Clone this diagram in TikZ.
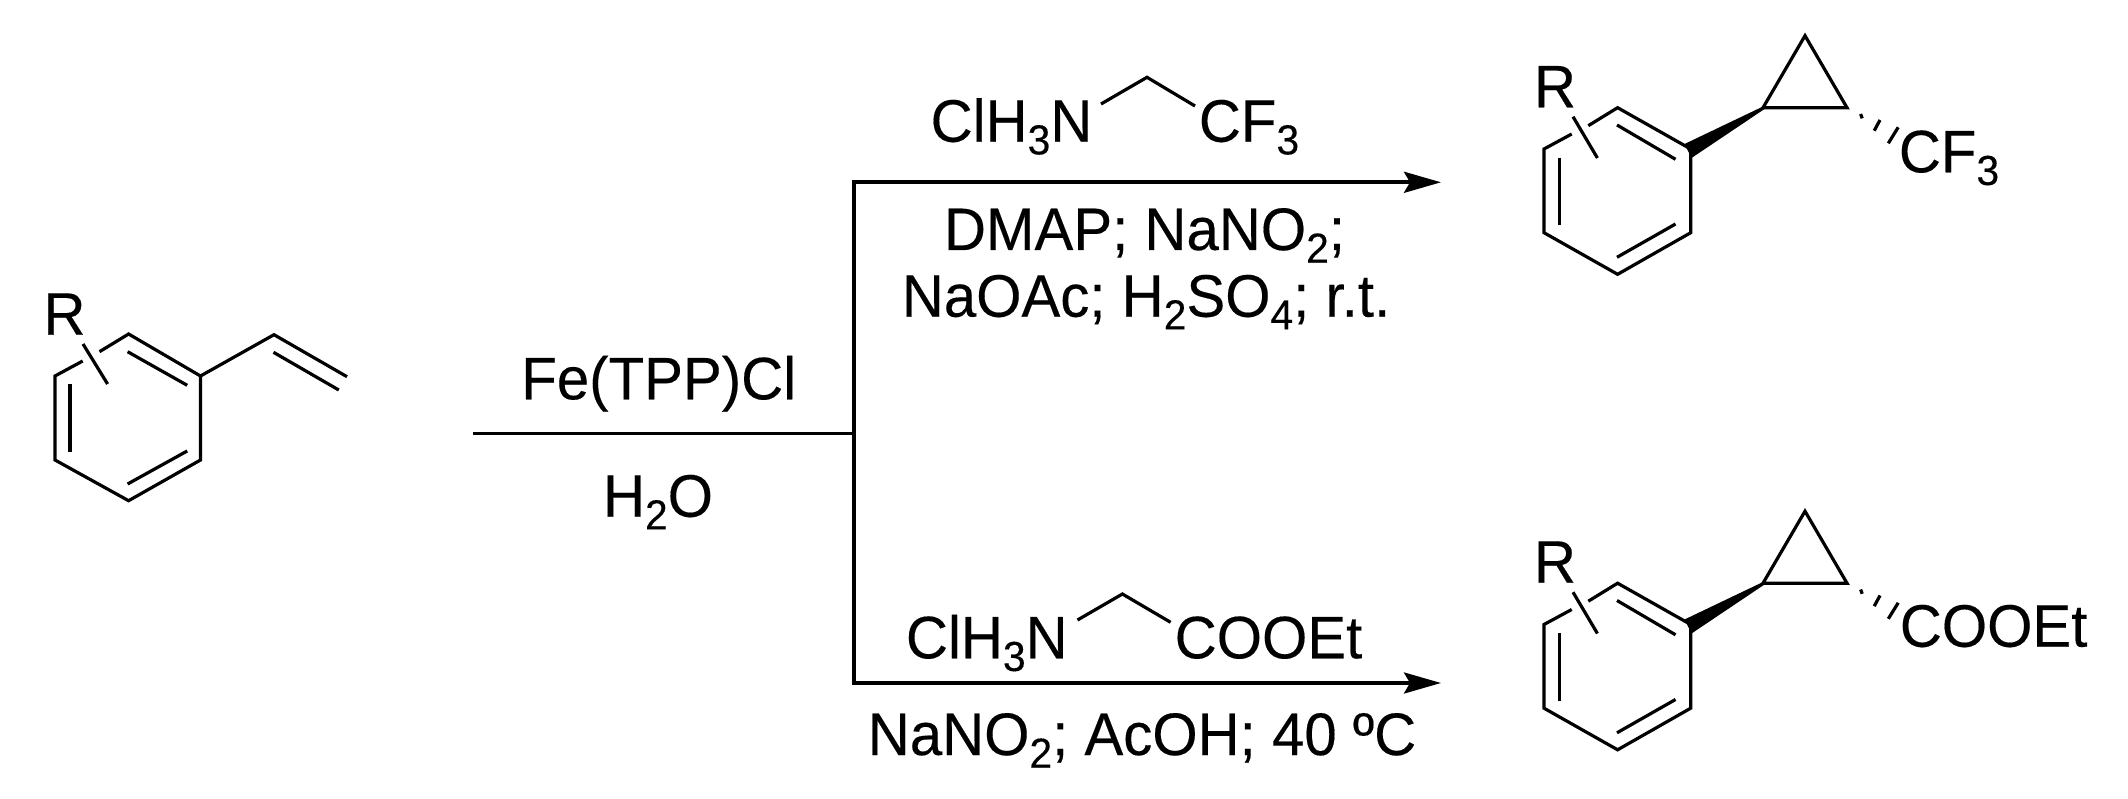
\documentclass[tikz,border=0pt]{standalone}
\usepackage{fontspec}
\setmainfont{Liberation Sans}[FakeStretch=0.97,FakeBold=0.25]
\usetikzlibrary{arrows.meta}
\newcommand{\chsub}[1]{\raisebox{-12.7pt}{\fontsize{42pt}{42pt}\selectfont #1}}
\tikzset{
  bond/.style={line width=3.2pt,line join=miter,line cap=butt,black},
  flow/.style={line width=3.6pt,line join=miter,line cap=rect,black},
  flowtip/.style={flow,-{Stealth[length=37pt,width=21pt,inset=6pt]}},
  chem/.style={inner sep=0pt,outer sep=0pt,anchor=base,font=\fontsize{60pt}{60pt}\selectfont,text=black},
}
\newcommand{\arylcp}{%
  \draw[bond] (1588.3,125.7) -- (1617.6,107.7) -- (1690.7,149) -- (1690.7,232.7) -- (1617.6,274.3) -- (1544,232.7) -- (1544,149) -- (1571.7,134);
  \draw[bond] (1617,125) -- (1675.5,159.3);
  \draw[bond] (1675.5,224) -- (1617,257.3);
  \draw[bond] (1559.3,157.7) -- (1559.3,225);
  \draw[bond] (1573,116.7) -- (1597.4,158);
  % cyclopropane
  \draw[bond] (1763,107.7) -- (1847,107.7) -- (1805,35.7) -- cycle;
  % wedge
  \fill[black] (1763,106.5) -- (1684.5,144) -- (1691.5,158) -- (1764.5,109) -- cycle;
  % hashed bond
  \draw[bond] (1860.6,114) -- (1862.2,118.3);
  \draw[bond] (1880,120) -- (1874.2,130.7);
  \draw[bond] (1898.2,127.3) -- (1888.3,143.3);
}
\begin{document}
\begin{tikzpicture}[x=1pt,y=-1pt]
\path[use as bounding box,fill=white] (0,0) rectangle (2128,799);

% --- styrene ---
\draw[bond] (99.5,351.7) -- (128.6,334) -- (200.5,376) -- (200.5,460) -- (128.6,500.7) -- (55,460) -- (55,376) -- (82.7,361);
\draw[bond] (127.6,351.7) -- (187.2,385.3);
\draw[bond] (187.2,451) -- (127.6,484);
\draw[bond] (70,384) -- (70,451.7);
\draw[bond] (83,344) -- (107.6,384);
\draw[bond] (200.5,376) -- (274,334.7) -- (347,376.7);
\draw[bond] (273.5,352.3) -- (338.8,390);
\node[chem] (r1) at (64.5,334.7) {R};

% --- reaction lines ---
\coordinate (start) at (473,433.3);
\coordinate (junction) at (854,433.3);
\coordinate (cornertop) at (854,182.3);
\coordinate (cornerbot) at (854,683);
\coordinate (tiptop) at (1441,182.3);
\coordinate (tipbot) at (1441,683);
\draw[flow,line cap=butt] (start) -- (junction);
\draw[flowtip] (junction) -- (cornertop) -- (tiptop);
\draw[flowtip] (junction) -- (cornerbot) -- (tipbot);

\node[chem] (cat) at (658.7,399.3) {Fe(TPP)Cl};
\node[chem] (water) at (658,516.7) {H\chsub{2}O};

% --- upper reagents ---
\node[chem] (amineA) at (1011.5,141.7) {ClH\chsub{3}N};
\node[chem] (cfA) at (1249,141.7) {CF\chsub{3}};
\draw[bond] (1101,104) -- (1147,77.3) -- (1195,106);
\node[chem] (condA1) at (1144.5,250) {DMAP; NaNO\chsub{2};};
\node[chem] (condA2) at (1146,316.7) {NaOAc; H\chsub{2}SO\chsub{4}; r.t.};

% --- lower reagents ---
\node[chem] (amineB) at (986.8,658.3) {ClH\chsub{3}N};
\node[chem] (esterB) at (1268.5,658.3) {COOEt};
\draw[bond] (1077.5,620) -- (1122.4,594) -- (1170.6,622.3);
\node[chem] (condB) at (1142,755) {NaNO\chsub{2}; AcOH; 40 ºC};

% --- upper product ---
\arylcp
\node[chem] (r2) at (1555,107.3) {R};
\node[chem] (prodA) at (1949,172.3) {CF\chsub{3}};

% --- lower product ---
\begin{scope}[yshift=-475.5pt]
  \arylcp
\end{scope}
\node[chem] (r3) at (1555,582.7) {R};
\node[chem] (prodB) at (1993.6,646.7) {COOEt};
\end{tikzpicture}
\end{document}
